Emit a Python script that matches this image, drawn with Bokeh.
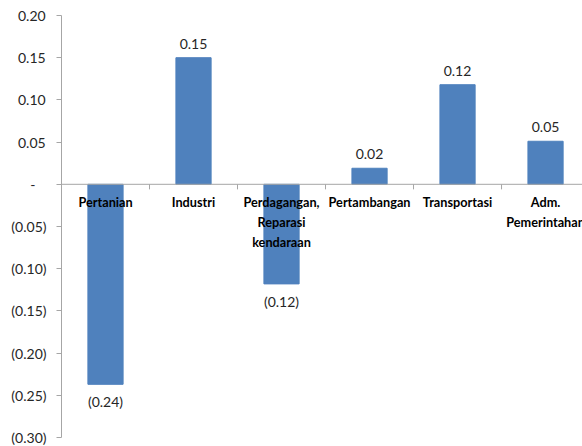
from bokeh.plotting import figure
from bokeh.models import Range1d, FixedTicker, CustomJSTickFormatter, ColumnDataSource
from bokeh.core.properties import value
from bokeh.embed import file_html
from bokeh.resources import INLINE

# Sector contributions
categories = ["Pertanian", "Industri", "Perdagangan,\nReparasi\nkendaraan",
              "Pertambangan", "Transportasi", "Adm.\nPemerintahan"]
values = [-0.237, 0.150, -0.118, 0.019, 0.118, 0.051]
y_ticks = [0.20, 0.15, 0.10, 0.05, 0.0, -0.05, -0.10, -0.15, -0.20, -0.25, -0.30]

FONT = "Lato"
BAR = "#4F81BD"
AXIS = "#A6A6A6"
TXT = "#262626"


def fmt(v):
    s = f"{abs(v):.2f}"
    return f"({s})" if v < 0 else s


n = len(categories)
centers = [i + 0.5 for i in range(n)]

p = figure(width=582, height=446, output_backend="svg", toolbar_location=None,
           x_range=Range1d(0, 5.92), y_range=Range1d(-0.30, 0.20),
           min_border_left=61, min_border_right=0, min_border_top=15,
           min_border_bottom=9)
p.outline_line_color = None
p.xgrid.visible = False
p.ygrid.visible = False
p.xaxis.visible = False
p.background_fill_color = "white"
p.border_fill_color = "white"

# value axis, accounting-style labels (zero shown as a dash)
ya = p.yaxis[0]
ya.ticker = FixedTicker(ticks=y_ticks)
ya.formatter = CustomJSTickFormatter(code="""
    if (Math.abs(tick) < 1e-9) return '-\u2007\u2008';
    const s = Math.abs(tick).toFixed(2);
    return tick < 0 ? '(' + s + ')' : s + '\u200a';
""")
ya.axis_line_color = AXIS
ya.major_tick_line_color = AXIS
ya.major_tick_out = 5
ya.major_tick_in = 0
ya.minor_tick_line_color = None
ya.major_label_standoff = 10
ya.major_label_text_align = "right"
ya.major_label_text_font = FONT
ya.major_label_text_font_size = "14px"
ya.major_label_text_color = TXT

# bars
src = ColumnDataSource(dict(x=centers, top=values, cat=categories))
p.vbar(x="x", top="top", bottom=0, width=0.4, source=src,
       fill_color=BAR, line_color=BAR)

# category axis along zero
p.segment(x0=[0], y0=[0], x1=[n], y1=[0], line_color=AXIS, line_width=1)
bounds = list(range(n + 1))
p.segment(x0=bounds, y0=[0] * len(bounds), x1=bounds, y1=[-0.006] * len(bounds),
          line_color=AXIS, line_width=1)

p.text(x="x", y=0, text="cat", source=src, text_align="center",
       text_baseline="top", y_offset=10, text_font=value(FONT),
       text_font_style="bold", text_font_size="12.7px", text_color="black",
       text_line_height=1.25)

# value labels
pos = ColumnDataSource(dict(x=[c for c, v in zip(centers, values) if v >= 0],
                            y=[v for v in values if v >= 0],
                            t=[fmt(v) for v in values if v >= 0]))
neg = ColumnDataSource(dict(x=[c for c, v in zip(centers, values) if v < 0],
                            y=[v for v in values if v < 0],
                            t=[fmt(v) for v in values if v < 0]))
p.text(x="x", y="y", text="t", source=pos, text_align="center",
       text_baseline="bottom", y_offset=-9, text_font=value(FONT),
       text_font_size="14px", text_color=TXT)
p.text(x="x", y="y", text="t", source=neg, text_align="center",
       text_baseline="top", y_offset=9, text_font=value(FONT),
       text_font_size="14px", text_color=TXT)

open("out.html", "w").write(file_html(p, INLINE))
